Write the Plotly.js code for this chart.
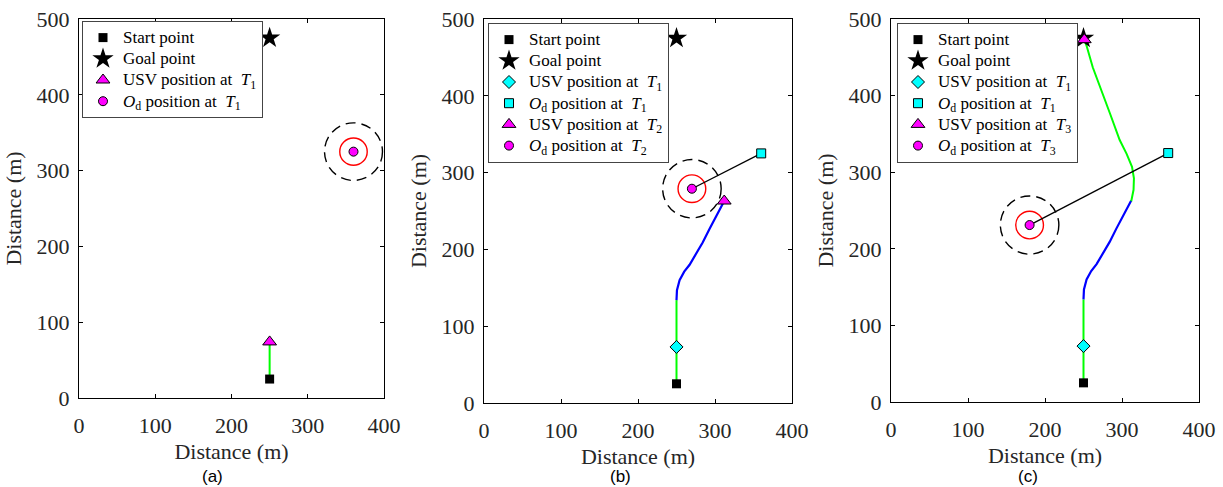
<!DOCTYPE html>
<html><head><meta charset="utf-8">
<script src="https://cdn.plot.ly/plotly-3.0.1.min.js"></script>
<style>html,body{margin:0;padding:0;background:#fff}</style>
</head><body><div id="chart" style="width:1223px;height:487px"></div>
<script>
// ---- data (metres) ----
const startX = [250], startY = [25];
const goalX = [250], goalY = [475];

// panel (a)
const usvT1aX = [250], usvT1aY = [74];
const odT1X = [360], odT1Y = [325];
const pathAX = [250, 250], pathAY = [25, 74];

// panel (b), (c) shared first leg
const usvT1X = [250], usvT1Y = [73];
const greenLeg1X = [250, 250], greenLeg1Y = [25, 134];
const blueLegX = [250, 250.6, 254, 260, 267, 275, 284, 293, 302, 310, 312];
const blueLegY = [134, 147, 160, 171, 180, 193, 209, 227, 245, 259, 263];

// panel (b)
const usvT2X = [312], usvT2Y = [263];
const odT2X = [270], odT2Y = [279];

// panel (c)
const greenLeg2X = [312, 315, 315.5, 313, 306, 297, 285, 272, 262, 254, 251];
const greenLeg2Y = [262, 277, 292, 307, 324, 342, 375, 410, 437, 465, 473];
const usvT3X = [251], usvT3Y = [473];
const odT3X = [180], odT3Y = [231];

// obstacle circles radii
const innerRadius = 18, outerRadius = 38;

const panelLabels = ['(a)', '(b)', '(c)'];
const axisTitle = 'Distance (m)';
const xTicks = [0, 100, 200, 300, 400];
const yTicks = [0, 100, 200, 300, 400, 500];

// ---- styling ----
const SERIF = 'Liberation Serif';
const SANS = 'Liberation Sans';
const GREEN = '#00ff00', BLUE = '#0000ff', CYAN = '#00ffff', MAG = '#ff00ff';
const edge = {color: '#000', width: 1};

function line(x, y, color, width, ax, ay) {
  return {x, y, xaxis: ax, yaxis: ay, mode: 'lines', showlegend: false,
    line: {color, width}, hoverinfo: 'skip'};
}
const big = s => '<span style="font-size:17px">' + s + '</span>';
function pt(x, y, name, symbol, size, color, ax, ay, leg, withEdge) {
  return {x, y, xaxis: ax, yaxis: ay, legend: leg, name: big(name), mode: 'markers',
    marker: {symbol, size, color, line: withEdge ? edge : {width: 0}}};
}
const T = n => '<i>T</i><sub>' + n + '</sub>';
const OD = '<i>O</i><sub>d</sub>';

const traces = [];
// panel a
traces.push(line(pathAX, pathAY, GREEN, 2, 'x', 'y'));
traces.push(pt(startX, startY, 'Start point', 'square', 9, '#000', 'x', 'y', 'legend', false));
traces.push(pt(goalX, goalY, 'Goal point', 'star', 16, '#000', 'x', 'y', 'legend', false));
traces.push(pt(usvT1aX, usvT1aY, 'USV position at  ' + T(1), 'triangle-up', 12, MAG, 'x', 'y', 'legend', true));
traces.push(pt(odT1X, odT1Y, OD + ' position at  ' + T(1), 'circle', 9, MAG, 'x', 'y', 'legend', true));

// panel b
traces.push(line(greenLeg1X, greenLeg1Y, GREEN, 2, 'x2', 'y2'));
traces.push(line(blueLegX, blueLegY, BLUE, 2.2, 'x2', 'y2'));
traces.push(line(odT1X.concat(odT2X), odT1Y.concat(odT2Y), '#000', 1.3, 'x2', 'y2'));
traces.push(pt(startX, startY, 'Start point', 'square', 9, '#000', 'x2', 'y2', 'legend2', false));
traces.push(pt(goalX, goalY, 'Goal point', 'star', 16, '#000', 'x2', 'y2', 'legend2', false));
traces.push(pt(usvT1X, usvT1Y, 'USV position at  ' + T(1), 'diamond', 10, CYAN, 'x2', 'y2', 'legend2', true));
traces.push(pt(odT1X, odT1Y, OD + ' position at  ' + T(1), 'square', 9, CYAN, 'x2', 'y2', 'legend2', true));
traces.push(pt(usvT2X, usvT2Y, 'USV position at  ' + T(2), 'triangle-up', 12, MAG, 'x2', 'y2', 'legend2', true));
traces.push(pt(odT2X, odT2Y, OD + ' position at  ' + T(2), 'circle', 9, MAG, 'x2', 'y2', 'legend2', true));

// panel c
traces.push(line(greenLeg1X, greenLeg1Y, GREEN, 2, 'x3', 'y3'));
traces.push(line(blueLegX, blueLegY, BLUE, 2.2, 'x3', 'y3'));
traces.push(line(greenLeg2X, greenLeg2Y, GREEN, 2, 'x3', 'y3'));
traces.push(line(odT1X.concat(odT3X), odT1Y.concat(odT3Y), '#000', 1.3, 'x3', 'y3'));
traces.push(pt(startX, startY, 'Start point', 'square', 9, '#000', 'x3', 'y3', 'legend3', false));
traces.push(pt(goalX, goalY, 'Goal point', 'star', 16, '#000', 'x3', 'y3', 'legend3', false));
traces.push(pt(usvT1X, usvT1Y, 'USV position at  ' + T(1), 'diamond', 10, CYAN, 'x3', 'y3', 'legend3', true));
traces.push(pt(odT1X, odT1Y, OD + ' position at  ' + T(1), 'square', 9, CYAN, 'x3', 'y3', 'legend3', true));
traces.push(pt(usvT3X, usvT3Y, 'USV position at  ' + T(3), 'triangle-up', 12, MAG, 'x3', 'y3', 'legend3', true));
traces.push(pt(odT3X, odT3Y, OD + ' position at  ' + T(3), 'circle', 9, MAG, 'x3', 'y3', 'legend3', true));

// ---- layout ----
const W = 1223, H = 487;
const px = v => v / W, py = v => 1 - v / H;
const boxes = [ // plot-area pixel boxes [left, right, top, bottom]
  [79, 384, 19, 398],
  [484, 792, 19, 403],
  [891, 1199, 19, 402]
];
const labelX = [213, 620, 1028];
const legendPos = [[82, 21], [488, 23], [897, 23]];

function xaxis(b) {
  return {domain: [px(b[0]), px(b[1])], range: [0, 400], tickvals: xTicks,
    ticks: 'inside', ticklen: 4, tickcolor: '#000', mirror: 'ticks', showline: true,
    linecolor: '#000', linewidth: 1, showgrid: false, zeroline: false,
    ticklabelstandoff: 8,
    tickfont: {family: SERIF, size: 22, color: '#262626'},
    title: {text: axisTitle, font: {family: SERIF, size: 22, color: '#262626'}, standoff: 6}};
}
function yaxis(b) {
  return {domain: [py(b[3]), py(b[2])], range: [0, 500], tickvals: yTicks,
    ticks: 'inside', ticklen: 4, tickcolor: '#000', mirror: 'ticks', showline: true,
    linecolor: '#000', linewidth: 1, showgrid: false, zeroline: false,
    ticklabelstandoff: 4,
    tickfont: {family: SERIF, size: 22, color: '#262626'},
    title: {text: axisTitle, font: {family: SERIF, size: 22, color: '#262626'}, standoff: 8}};
}
function legend(p) {
  return {x: px(p[0]), y: py(p[1]), xanchor: 'left', yanchor: 'top',
    bgcolor: '#fff', bordercolor: '#444', borderwidth: 1, itemwidth: 30,
    tracegroupgap: 0, traceorder: 'normal',
    font: {family: SERIF, size: 14, color: '#000'}};
}

const centers = [[odT1X[0], odT1Y[0], 'x', 'y'], [odT2X[0], odT2Y[0], 'x2', 'y2'], [odT3X[0], odT3Y[0], 'x3', 'y3']];
const shapes = [];
centers.forEach(c => {
  shapes.push({type: 'circle', xref: c[2], yref: c[3], x0: c[0] - innerRadius, x1: c[0] + innerRadius,
    y0: c[1] - innerRadius, y1: c[1] + innerRadius, line: {color: '#ff0000', width: 1.4}, layer: 'below'});
  shapes.push({type: 'circle', xref: c[2], yref: c[3], x0: c[0] - outerRadius, x1: c[0] + outerRadius,
    y0: c[1] - outerRadius, y1: c[1] + outerRadius, line: {color: '#000', width: 1.4, dash: '10px,6px'}, layer: 'below'});
});

const layout = {
  width: W, height: H, margin: {l: 0, r: 0, t: 0, b: 0},
  paper_bgcolor: '#fff', plot_bgcolor: '#fff', showlegend: true,
  font: {family: SERIF},
  xaxis: Object.assign(xaxis(boxes[0]), {anchor: 'y'}),
  yaxis: Object.assign(yaxis(boxes[0]), {anchor: 'x'}),
  xaxis2: Object.assign(xaxis(boxes[1]), {anchor: 'y2'}),
  yaxis2: Object.assign(yaxis(boxes[1]), {anchor: 'x2'}),
  xaxis3: Object.assign(xaxis(boxes[2]), {anchor: 'y3'}),
  yaxis3: Object.assign(yaxis(boxes[2]), {anchor: 'x3'}),
  legend: legend(legendPos[0]),
  legend2: legend(legendPos[1]),
  legend3: legend(legendPos[2]),
  shapes,
  annotations: panelLabels.map((t, i) => ({text: t, xref: 'paper', yref: 'paper',
    x: px(labelX[i]), y: py(476), xanchor: 'center', yanchor: 'middle', showarrow: false,
    font: {family: SANS, size: 17, color: '#000'}}))
};

Plotly.newPlot('chart', traces, layout, {displayModeBar: false, staticPlot: true});
</script></body></html>
